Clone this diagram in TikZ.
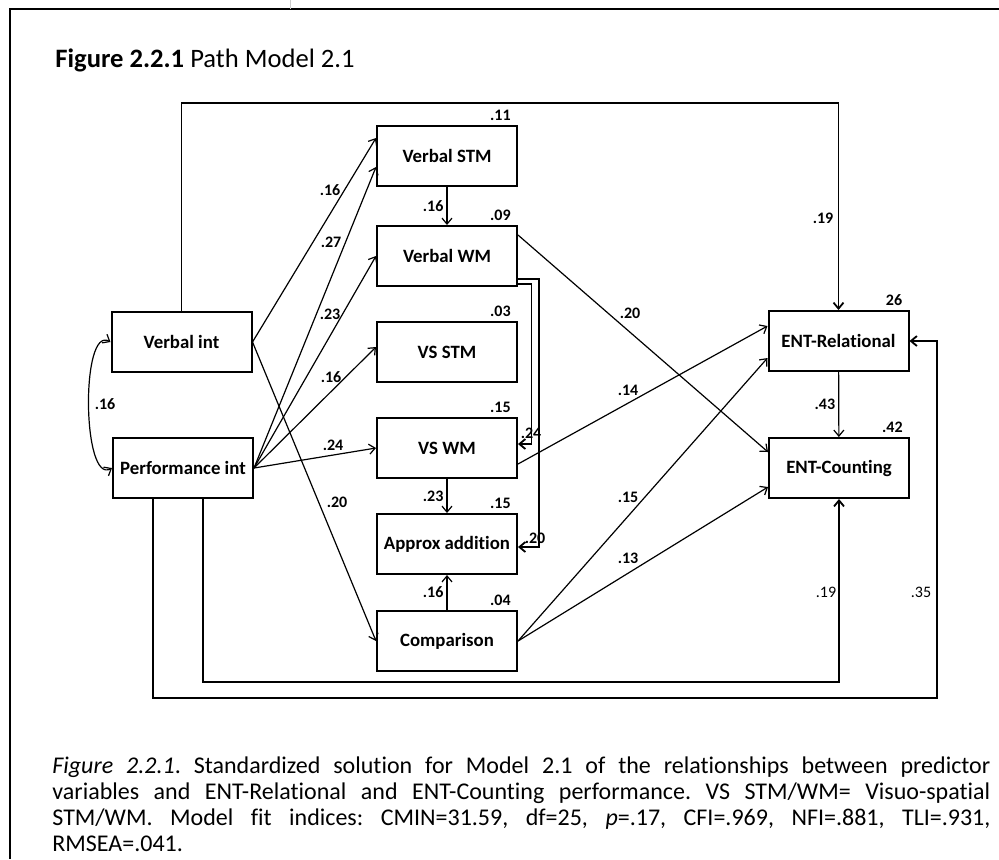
\documentclass[tikz,border=0pt]{standalone}
\usepackage{fontspec}
\setmainfont{Carlito}[Ligatures=NoCommon]
\usepackage{tikz}
\usetikzlibrary{arrows.meta}

\begin{document}
\begin{tikzpicture}[
    x=0.5pt, y=-0.5pt,
    >={Straight Barb[length=3pt,width=5pt]},
    var/.style={draw, line width=1pt, minimum width=70pt, minimum height=30pt, inner sep=1pt, font=\fontsize{9.4}{11}\selectfont\bfseries},
    coef/.style={inner sep=0.5pt, font=\fontsize{8}{9}\selectfont\bfseries},
    plaincoef/.style={inner sep=0.5pt, font=\fontsize{8}{9}\selectfont},
    rsq/.style={coef, anchor=south east},
    link/.style={->, line width=0.6pt},
    route/.style={->, line width=0.9pt}
]
    \useasboundingbox (0,0) rectangle (999,859);
    \draw[line width=1.4pt] (999,9) -- (10,9) -- (10,859);
    \draw[gray!40, line width=0.4pt] (290,0) -- (290,9);

    \node[anchor=west, inner sep=0pt, font=\fontsize{13.3}{16}\selectfont] (title) at (55,60) {\textbf{Figure 2.2.1} Path Model 2.1};

    % predictors
    \node[var] (vint) at (181.5,342) {Verbal int};
    \node[var] (pint) at (183,468) {Performance int};
    % memory and number measures
    \node[var] (vstm) at (447,156) {Verbal STM};
    \node[var] (vwm) at (447,256) {Verbal WM};
    \node[var] (vsstm) at (447,352) {VS STM};
    \node[var] (vswm) at (447,448) {VS WM};
    \node[var] (approx) at (447,544) {Approx addition};
    \node[var] (comp) at (447,641) {Comparison};
    % outcomes
    \node[var] (entr) at (838.5,341) {ENT-Relational};
    \node[var] (entc) at (839,468) {ENT-Counting};

    \foreach \n/\v in {vstm/.11, vwm/.09, vsstm/.03, vswm/.15, approx/.15, comp/.04, entr/26, entc/.42}
        \node[rsq] (r\n) at ([xshift=-3pt,yshift=1.5pt]\n.north east) {\v};

    \draw[link,<->] (vint.west) to[out=150,in=210,looseness=0.7] (pint.west);

    \draw[link] (vint.east) -- ([yshift=9pt]vstm.west);
    \draw[link] (vint.east) -- (comp.west);
    \foreach \t/\s in {vstm/-5.5, vwm/0, vsstm/2.5, vswm/0}
        \draw[link] (pint.east) -- ([yshift=\s pt]\t.west);

    \draw[link] (vstm) -- node[coef,left=1pt]{.16} (vwm);
    \draw[link] (vswm) -- node[coef,left=1pt]{.23} (approx);
    \draw[link] (comp) -- node[coef,left=1pt]{.16} (approx);
    \draw[link] (entr) -- node[coef,left=1pt]{.43} (entc);

    \draw[route] ([yshift=-11.5pt]vwm.east) -- ++(21,0) |- ([yshift=-1.5pt]approx.east);
    \draw[route] ([yshift=-14pt]vwm.east) -- ++(13.5,0) |- ([yshift=2pt]vswm.east);

    \draw[link] ([yshift=10.5pt]vwm.east) -- ([yshift=8pt]entc.west);
    \draw[link] ([yshift=-8pt]vswm.east) -- ([yshift=7.5pt]entr.west);
    \draw[link] (comp.east) -- ([yshift=-8.5pt]entr.west);
    \draw[link] (comp.east) -- ([yshift=-9.5pt]entc.west);

    \draw[route] (vint.north) -- (vint.north |- 0,103) -| (entr.north);
    \draw[route] ([xshift=10pt]pint.south) |- (entc.south |- 0,682) -- (entc.south);
    \draw[route] ([xshift=-15pt]pint.south) |- (937,698) |- (entr.east);

    \foreach \x/\y/\v [count=\i] in {330/190/.16, 331/242/.27, 330/314/.23, 331/377/.16, 333/445/.24, 337/502/.20, 531/433/.24, 535/538/.20, 630/313/.20, 628/390/.14, 628/497/.15, 628/558/.13, 823/218/.19, 105/404/.16}
        \node[coef] (c\i) at (\x,\y) {\v};
    \node[plaincoef] (c19) at (826,592) {.19};
    \node[plaincoef] (c35) at (921,592) {.35};

    \node[anchor=north west, inner sep=0pt, text width=469pt, align=justify, font=\fontsize{12}{13}\selectfont\frenchspacing] (caption) at (52,756)
        {\textit{Figure 2.2.1}. Standardized solution for Model 2.1 of the relationships between predictor\linebreak
         variables and ENT-Relational and ENT-Counting performance. VS STM/WM= Visuo-spatial\linebreak
         STM/WM. Model fit indices: CMIN=31.59, df=25, \textit{p}=.17, CFI=.969, NFI=.881, TLI=.931,\linebreak
         RMSEA=.041.};
\end{tikzpicture}
\end{document}
